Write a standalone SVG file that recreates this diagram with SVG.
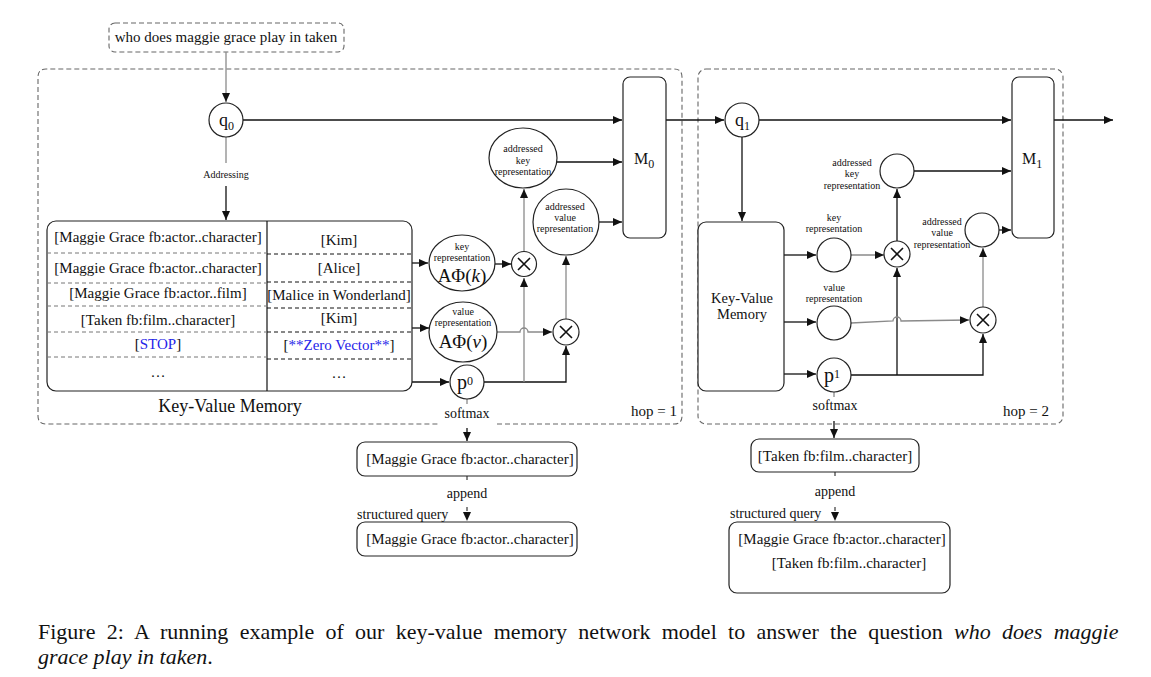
<svg xmlns="http://www.w3.org/2000/svg" width="1151" height="677" viewBox="0 0 1151 677">
<style>
text{font-family:"Liberation Serif","Times New Roman",serif;fill:#111}
.c{text-anchor:middle}
.t15{font-size:15px}
.t14{font-size:14px}
.t10{font-size:10px}
.blue{fill:#2424e8}
.node{fill:#fff;stroke:#222;stroke-width:1.2}
.cont{fill:none;stroke:#666;stroke-width:1.1;stroke-dasharray:5 3}
.ln{fill:none;stroke:#111;stroke-width:1.3}
.gr{fill:none;stroke:#8a8a8a;stroke-width:1.3}
.dl{fill:none;stroke:#777;stroke-width:1;stroke-dasharray:4 3}
.dk{fill:none;stroke:#111;stroke-width:1;stroke-dasharray:4 3}
.x{stroke:#111;stroke-width:1.6;fill:none}
</style>
<defs>
<marker id="a" markerUnits="userSpaceOnUse" markerWidth="9" markerHeight="8" refX="9" refY="4" orient="auto">
<path d="M0,0 L9,4 L0,8 z" fill="#111"/>
</marker>
</defs>

<!-- containers -->
<g id="hop1">
<path class="cont" d="M497,424 H674 Q682,424 682,416 V77 Q682,69 674,69 H46 Q38,69 38,77 V416 Q38,424 46,424 H440"/>
<text class="t15" x="677" y="416" text-anchor="end">hop = 1</text>
</g>
<g id="hop2">
<rect class="cont" x="698" y="69" width="365" height="355" rx="8"/>
<text class="t15" x="1049" y="416" text-anchor="end">hop = 2</text>
</g>

<!-- question -->
<g id="question">
<rect x="109" y="23" width="235" height="29" rx="6" fill="#fff" stroke="#666" stroke-width="1.1" stroke-dasharray="5 3"/>
<text class="t15 c" x="226" y="42">who does maggie grace play in taken</text>
</g>

<!-- connectors -->
<g id="connectors">
<path class="gr" d="M226,52 V102" marker-end="url(#a)"/>
<path class="ln" d="M243,120 H622" marker-end="url(#a)"/>
<path class="gr" d="M226,137 V163"/>
<path class="ln" d="M226,186 V220" marker-end="url(#a)"/>
<path class="ln" d="M412,263 H428" marker-end="url(#a)"/>
<path class="ln" d="M412,328 H429" marker-end="url(#a)"/>
<path class="ln" d="M412,382 H449" marker-end="url(#a)"/>
<path class="ln" d="M495,264 H511" marker-end="url(#a)"/>
<path class="ln" d="M484,382 H566 V346" marker-end="url(#a)"/>
<path class="gr" d="M524,382 V278" marker-end="url(#a)"/>
<path class="gr" d="M524,251 V189" marker-end="url(#a)"/>
<path class="gr" d="M497,332 H520 a4,4 0 0 1 8,0 H552" marker-end="url(#a)"/>
<path class="gr" d="M566,319 V256" marker-end="url(#a)"/>
<path class="ln" d="M557,162 H622" marker-end="url(#a)"/>
<path class="ln" d="M599,222 H622" marker-end="url(#a)"/>
<path class="ln" d="M666,120 H724" marker-end="url(#a)"/>
<path class="gr" d="M467,399 V404"/>
<path class="ln" d="M467,428 V441" marker-end="url(#a)"/>
<path class="dk" d="M467,476 V483"/>
<path class="dk" d="M467,507 V521" marker-end="url(#a)"/>

<path class="ln" d="M759,120 H1011" marker-end="url(#a)"/>
<path class="ln" d="M1054,120 H1113" marker-end="url(#a)"/>
<path class="ln" d="M742,137 V221" marker-end="url(#a)"/>
<path class="ln" d="M784,255 H816" marker-end="url(#a)"/>
<path class="ln" d="M784,322 H816" marker-end="url(#a)"/>
<path class="ln" d="M784,374 H816" marker-end="url(#a)"/>
<path class="gr" d="M851,255 H884" marker-end="url(#a)"/>
<path class="ln" d="M851,375 H983 V334" marker-end="url(#a)"/>
<path class="ln" d="M897,375 V268" marker-end="url(#a)"/>
<path class="ln" d="M897,241 V189" marker-end="url(#a)"/>
<path class="gr" d="M851,323 L893,321 a4,4 0 0 1 8,0 L969,320" marker-end="url(#a)"/>
<path class="gr" d="M983,307 V248" marker-end="url(#a)"/>
<path class="ln" d="M914,171 H1011" marker-end="url(#a)"/>
<path class="ln" d="M999,230 H1011" marker-end="url(#a)"/>
<path class="gr" d="M834,392 V397"/>
<path class="ln" d="M834,421 V438" marker-end="url(#a)"/>
<path class="dk" d="M835,472 V479"/>
<path class="dk" d="M835,507 V521" marker-end="url(#a)"/>
</g>

<!-- hop 1 nodes -->
<g id="q0">
<circle class="node" cx="226" cy="120" r="17"/>
<text x="219" y="126" style="font-size:18px">q<tspan style="font-size:12px" dy="4">0</tspan></text>
</g>
<g id="addressing"><text class="t10 c" x="226" y="178">Addressing</text></g>

<g id="kvmemory1">
<rect x="47" y="221" width="365" height="170" rx="9" fill="#fff" stroke="#222" stroke-width="1.2"/>
<line x1="267" y1="221" x2="267" y2="391" stroke="#111" stroke-width="1.2"/>
<path class="dl" d="M47,253 H267 M47,283 H267 M47,306 H267 M47,332 H267 M47,357 H267"/>
<path class="dk" d="M267,254 H412 M267,282 H412 M267,308 H412 M267,332 H412 M267,359 H412"/>
<g class="t15 c">
<text x="158" y="242">[Maggie Grace fb:actor..character]</text>
<text x="158" y="273">[Maggie Grace fb:actor..character]</text>
<text x="158" y="298">[Maggie Grace fb:actor..film]</text>
<text x="158" y="325">[Taken fb:film..character]</text>
<text x="158" y="349">[<tspan class="blue">STOP</tspan>]</text>
<text x="158" y="377">…</text>
<text x="339" y="245">[Kim]</text>
<text x="339" y="273">[Alice]</text>
<text x="339" y="300">[Malice in Wonderland]</text>
<text x="339" y="323">[Kim]</text>
<text x="339" y="350">[<tspan class="blue">**Zero Vector**</tspan>]</text>
<text x="339" y="378">…</text>
</g>
<text class="c" x="230" y="412" style="font-size:18px">Key-Value Memory</text>
</g>

<g id="keyrep1">
<ellipse class="node" cx="462" cy="263" rx="33" ry="28"/>
<text class="t10 c" x="462" y="250">key</text>
<text class="t10 c" x="462" y="261">representation</text>
<text class="c" x="462" y="282" style="font-size:19px">AΦ(<tspan font-style="italic">k</tspan>)</text>
</g>
<g id="valrep1">
<ellipse class="node" cx="463" cy="332" rx="34" ry="30"/>
<text class="t10 c" x="463" y="315">value</text>
<text class="t10 c" x="463" y="326">representation</text>
<text class="c" x="463" y="348" style="font-size:19px">AΦ(<tspan font-style="italic">v</tspan>)</text>
</g>
<g id="p0">
<circle class="node" cx="467" cy="382" r="17"/>
<text x="457" y="389" style="font-size:20px">p<tspan style="font-size:12px" dy="-4">0</tspan></text>
</g>
<g id="softmax1"><text class="t14 c" x="467" y="418">softmax</text></g>
<g id="mul1">
<circle class="node" cx="524" cy="264" r="12.5"/>
<path class="x" d="M518,258 L530,270 M530,258 L518,270"/>
</g>
<g id="mul2">
<circle class="node" cx="566" cy="332" r="13"/>
<path class="x" d="M560,326 L572,338 M572,326 L560,338"/>
</g>
<g id="addrkey1">
<ellipse class="node" cx="523" cy="158" rx="34" ry="30"/>
<text class="t10 c" x="523" y="152">addressed</text>
<text class="t10 c" x="523" y="164">key</text>
<text class="t10 c" x="523" y="175">representation</text>
</g>
<g id="addrval1">
<circle class="node" cx="566" cy="222" r="33"/>
<text class="t10 c" x="565" y="210">addressed</text>
<text class="t10 c" x="565" y="221">value</text>
<text class="t10 c" x="565" y="232">representation</text>
</g>
<g id="M0">
<rect class="node" x="623" y="77" width="43" height="161" rx="7"/>
<text x="634" y="164" style="font-size:16px">M<tspan style="font-size:12px" dy="4">0</tspan></text>
</g>

<!-- hop 2 nodes -->
<g id="q1">
<circle class="node" cx="742" cy="120" r="17"/>
<text x="735" y="126" style="font-size:18px">q<tspan style="font-size:12px" dy="4">1</tspan></text>
</g>
<g id="kvmemory2">
<rect class="node" x="698" y="222" width="86" height="169" rx="8"/>
<text class="c" x="742" y="303" style="font-size:14.5px">Key-Value</text>
<text class="c" x="742" y="319" style="font-size:14.5px">Memory</text>
</g>
<g id="keyrep2">
<circle class="node" cx="834" cy="255" r="17"/>
<text class="t10 c" x="834" y="221">key</text>
<text class="t10 c" x="834" y="232">representation</text>
</g>
<g id="valrep2">
<circle class="node" cx="834" cy="323" r="17"/>
<text class="t10 c" x="834" y="291">value</text>
<text class="t10 c" x="834" y="302">representation</text>
</g>
<g id="p1">
<circle class="node" cx="834" cy="375" r="17"/>
<text x="824" y="382" style="font-size:20px">p<tspan style="font-size:12px" dy="-4">1</tspan></text>
</g>
<g id="softmax2"><text class="t14 c" x="835" y="410">softmax</text></g>
<g id="mul3">
<circle class="node" cx="897" cy="254" r="13"/>
<path class="x" d="M891,248 L903,260 M903,248 L891,260"/>
</g>
<g id="mul4">
<circle class="node" cx="983" cy="320" r="13"/>
<path class="x" d="M977,314 L989,326 M989,314 L977,326"/>
</g>
<g id="addrkey2">
<circle class="node" cx="897" cy="171" r="17"/>
<text class="t10 c" x="852" y="166">addressed</text>
<text class="t10 c" x="852" y="177">key</text>
<text class="t10 c" x="852" y="189">representation</text>
</g>
<g id="addrval2">
<circle class="node" cx="982" cy="230" r="17"/>
<text class="t10 c" x="942" y="225">addressed</text>
<text class="t10 c" x="942" y="236">value</text>
<text class="t10 c" x="942" y="248">representation</text>
</g>
<g id="M1">
<rect class="node" x="1012" y="77" width="42" height="161" rx="7"/>
<text x="1022" y="164" style="font-size:16px">M<tspan style="font-size:12px" dy="4">1</tspan></text>
</g>

<!-- results -->
<g id="result1">
<rect class="node" x="357" y="442" width="220" height="34" rx="8"/>
<text class="t15 c" x="470" y="464">[Maggie Grace fb:actor..character]</text>
</g>
<g id="append1"><text class="t14 c" x="467" y="498">append</text>
<text class="t14" x="357" y="519">structured query</text></g>
<g id="query1">
<rect class="node" x="357" y="522" width="220" height="34" rx="8"/>
<text class="t15 c" x="470" y="544">[Maggie Grace fb:actor..character]</text>
</g>
<g id="result2">
<rect class="node" x="751" y="439" width="168" height="33" rx="8"/>
<text class="t15 c" x="835" y="461">[Taken fb:film..character]</text>
</g>
<g id="append2"><text class="t14 c" x="835" y="496">append</text>
<text class="t14" x="730" y="518">structured query</text></g>
<g id="query2">
<rect class="node" x="729" y="522" width="221" height="71" rx="8"/>
<text class="t15 c" x="842" y="544">[Maggie Grace fb:actor..character]</text>
<text class="t15 c" x="849" y="568">[Taken fb:film..character]</text>
</g>

<!-- caption -->
<g id="caption" style="font-size:22px">
<text x="38" y="639" word-spacing="5.8">Figure 2: A running example of our key-value memory network model to answer the question <tspan font-style="italic">who does maggie</tspan></text>
<text x="38" y="664"><tspan font-style="italic">grace play in taken</tspan>.</text>
</g>
</svg>
